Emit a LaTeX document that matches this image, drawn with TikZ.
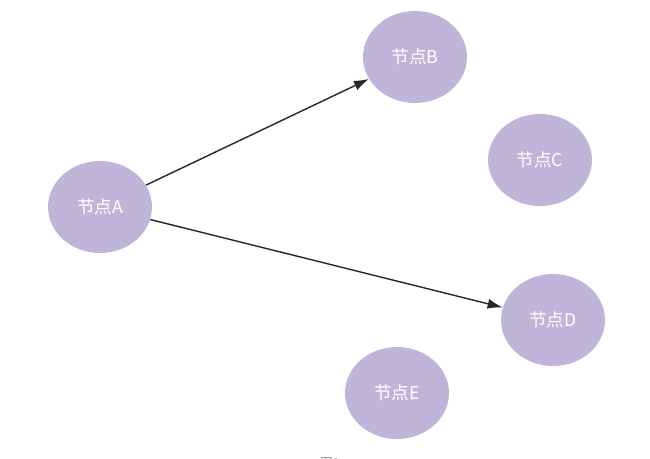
\documentclass[tikz,border=0pt]{standalone}
\usepackage{fontspec}
\newfontfamily\cjk{Noto Sans CJK SC}
\usetikzlibrary{shapes.geometric,arrows.meta}
\definecolor{nodefill}{HTML}{BFB5D9}
\begin{document}
\begin{tikzpicture}[
    x=0.02cm, y=-0.02cm,
    every node/.style={align=center},
    graph node/.style={ellipse, fill=nodefill, minimum width=2.08cm, minimum height=1.84cm, inner sep=0pt, text=white, font=\cjk\fontsize{10}{12}\selectfont},
    edge arrow/.style={draw, thick, color=black!85, -{Latex[length=3mm,width=2mm]}},
    ]
\useasboundingbox (0,0) rectangle (650,458);
\node[graph node] (A) at (100,207) {节点A};
\node[graph node] (B) at (415,57) {节点B};
\node[graph node] (C) at (540,160) {节点C};
\node[graph node] (D) at (553,320) {节点D};
\node[graph node] (E) at (397,393) {节点E};
\draw[edge arrow] (A) -- (B);
\draw[edge arrow] (A) -- (D);
\node[font=\cjk\fontsize{7}{8}\selectfont, text=black!50] (caption) at (330,463) {图1};
\end{tikzpicture}
\end{document}
